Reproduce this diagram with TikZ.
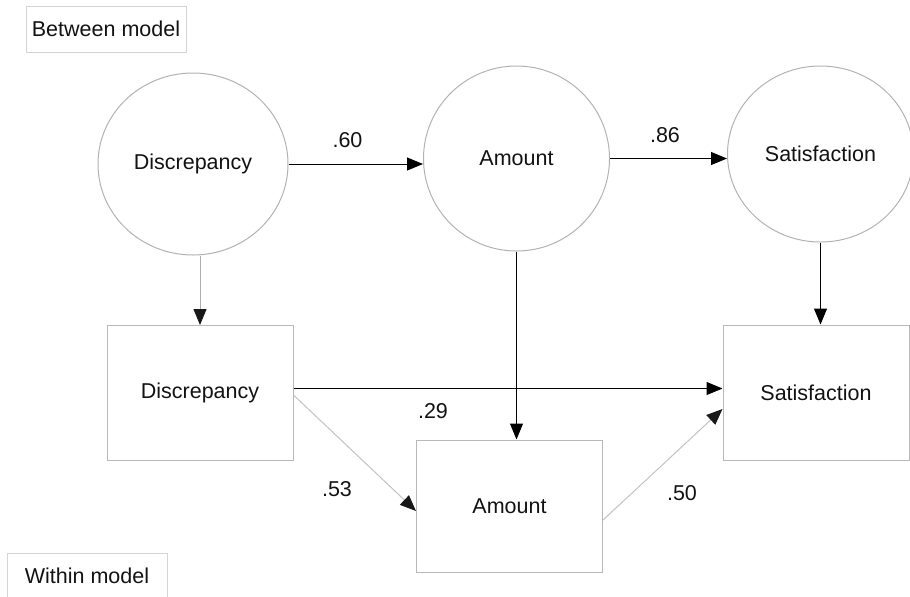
\documentclass[tikz,border=0pt]{standalone}
\usepackage{fontspec}
\setmainfont{Liberation Sans}
\usetikzlibrary{arrows.meta,shapes.geometric,calc}

\tikzset{
    txt/.style={font=\fontsize{10.75pt}{13pt}\selectfont, text=black!93},
    latent/.style={ellipse, draw=black!30, line width=0.5pt, inner sep=0pt, txt},
    observed/.style={rectangle, draw=black!28, line width=0.5pt, inner sep=0pt,
        minimum width=93pt, minimum height=67.5pt, txt},
    modelbox/.style={rectangle, draw=black!17, line width=0.5pt, inner sep=0pt,
        minimum width=80pt, minimum height=23pt, txt},
    coef/.style={inner sep=0pt, txt},
    strong/.style={-{Triangle[length=8pt,width=6.5pt]}, line width=0.5pt, draw=black},
    weak/.style={-{Triangle[length=8pt,width=6.5pt,color=black!90]}, line width=0.5pt, draw=black!24}
}

\begin{document}
\begin{tikzpicture}[x=0.5pt, y=-0.5pt]
        \useasboundingbox (0,0) rectangle (910,596);
        \node[modelbox] (between) at (106,29) {Between model};
        \node[modelbox] (within) at (87,576) {Within model};

        \node[latent, minimum width=95pt, minimum height=91pt] (dcl) at (193,164) {Discrepancy};
        \node[latent, minimum width=93pt, minimum height=92.5pt] (aml) at (516.5,158.5) {Amount};
        \node[latent, minimum width=93pt, minimum height=88pt] (scl) at (820.5,154) {Satisfaction};

        \node[observed] (dcr) at (200,393) {Discrepancy};
        \node[observed, minimum height=66pt] (amr) at (509.5,506) {Amount};
        \node[observed] (scr) at (816,392.5) {Satisfaction};

        \draw[strong] (dcl.east) -- (dcl.east -| aml.west);
        \draw[strong] (aml.east) -- (aml.east -| scl.west);
        \draw[weak, draw=black!32] (dcl.south -| dcr.north) -- (dcr.north);
        \draw[strong] (aml.south) -- (aml.south |- amr.north);
        \draw[strong] (scl.south) -- (scl.south |- scr.north);

        \coordinate (dcrout) at ($(dcr.east)+(0,-4.5)$);
        \draw[strong] (dcrout) -- (dcrout -| scr.west);
        \draw[weak] ($(dcr.east)+(0,2)$) -- ($(amr.west)+(0,5)$);
        \draw[weak] ($(amr.east)+(0,14)$) -- ($(scr.west)+(0,16.5)$);

        \node[coef] (p60) at (347.5,140) {.60};
        \node[coef] (p86) at (665,135) {.86};
        \node[coef] (p29) at (433,411.5) {.29};
        \node[coef] (p53) at (337,489) {.53};
        \node[coef] (p50) at (682,493.5) {.50};
    \end{tikzpicture}
\end{document}
